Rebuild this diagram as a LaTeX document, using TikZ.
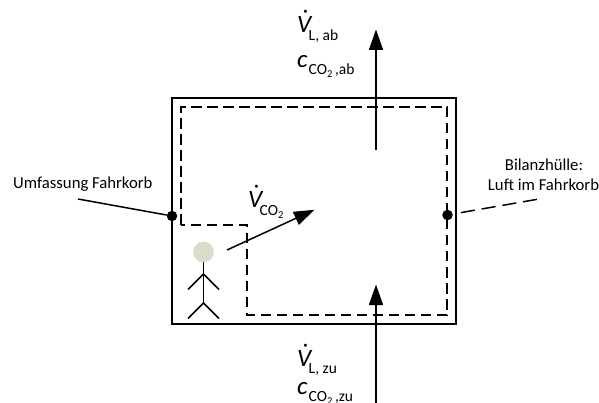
\documentclass[tikz,border=0pt]{standalone}
\usepackage{fontspec}
\setmainfont{Carlito}
\usetikzlibrary{arrows.meta}
\definecolor{headfill}{HTML}{D9DCC8}
\definecolor{headline}{HTML}{E4E6D8}
\newcommand{\bigf}{\fontsize{25}{25}\selectfont\itshape}
\newcommand{\subf}{\fontsize{15.5}{15.5}\selectfont\upshape}
\newcommand{\subsubf}{\fontsize{10.5}{10.5}\selectfont}
\newcommand{\flowV}[1]{\makebox[11.5pt][l]{\bigf V\hspace{-10pt}\raisebox{5pt}{˙}}\raisebox{-7.5pt}{\subf #1}}
\newcommand{\flowc}[1]{\makebox[11.5pt][l]{\bigf c}\raisebox{-7pt}{\subf CO\raisebox{-3pt}{\subsubf 2}\,,#1}}
\tikzset{
  x=1pt,y=-1pt,
  txt/.style={inner sep=0pt,anchor=base west,font=\fontsize{16.7}{16.7}\selectfont},
  solidline/.style={line width=1.8pt,draw=black},
  thinline/.style={line width=1.5pt,draw=black},
  hull/.style={line width=1.4pt,draw=black,dash pattern=on 10.5pt off 5.5pt},
  leader/.style={line width=1.5pt,draw=black,dash pattern=on 14pt off 7pt},
  flowarrow/.style={line width=1.5pt,draw=black,-{Triangle[length=20.5pt,width=14pt]},shorten >=-0.5pt},
  joint/.style={circle,fill=black,inner sep=0pt,minimum size=10.5pt},
}
\begin{document}
\begin{tikzpicture}
\useasboundingbox (0,0) rectangle (599,403);
% enclosure and balance envelope
\draw[solidline] (172,98) rectangle (456,324);
\draw[hull] (181,225) -- (181,107) -- (447,107) -- (447,315) -- (247,315) -- (247,225) -- cycle;
% joints
\node[joint] (jl) at (172,216) {};
\node[joint] (jr) at (447.5,215) {};
% leader lines
\coordinate (ul) at (78,199);
\coordinate (br) at (539,199);
\coordinate (bl) at (461,212.6);
\draw[thinline] (ul) -- (jl);
\draw[leader] (bl) -- (br);
% flow arrows
\coordinate (outS) at (376,150);
\coordinate (outE) at (376,30);
\coordinate (inS) at (376,403);
\coordinate (inE) at (376,285);
\coordinate (co2S) at (227,250);
\coordinate (co2E) at (314,210);
\draw[flowarrow] (outS) -- (outE);
\draw[flowarrow] (inS) -- (inE);
\draw[flowarrow] (co2S) -- (co2E);
% person
\node[circle,fill=headfill,draw=headline,line width=0.4pt,minimum size=20.5pt,inner sep=0pt] (head) at (203.5,252) {};
\coordinate (hip) at (203.5,303);
\coordinate (sh) at (203.5,274);
\draw[thinline] (head.south) -- (hip);
\draw[thinline] (188,289.5) -- (sh) -- (219,289.5);
\draw[thinline] (188,318.5) -- (hip) -- (219,318.5);
% labels
\node[txt] (t1) at (297,33) {\flowV{L, ab}};
\node[txt] (t2) at (297,68) {\flowc{ab}};
\node[txt] (t3) at (297,366) {\flowV{L, zu}};
\node[txt] (t4) at (297,394) {\flowc{zu}};
\node[txt] (t5) at (248,207.7) {\flowV{CO\raisebox{-3pt}{\subsubf 2}}};
\node[txt] (t6) at (13,189) {Umfassung Fahrkorb};
\node[txt,anchor=base] (t7) at (544,170.7) {Bilanzhülle:};
\node[txt,anchor=base] (t8) at (543.5,191) {Luft im Fahrkorb};
\end{tikzpicture}
\end{document}
